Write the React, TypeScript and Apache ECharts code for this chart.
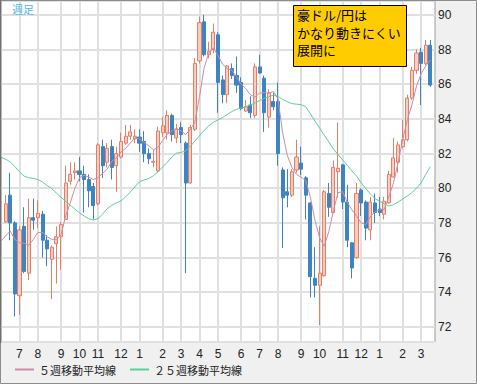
import React, { useEffect, useRef } from "react";
import * as echarts from "echarts";

// Weekly candles, AUD/JPY. Index 0 and the last index are empty pad weeks at the plot edges.
const START_WEEK_UTC = Date.UTC(2010, 5, 7);
const WEEK_MS = 7 * 24 * 3600 * 1000;
const WEEK_COUNT = 95;
const weeks: string[] = Array.from({ length: WEEK_COUNT }, (_, k) => {
  const d = new Date(START_WEEK_UTC + k * WEEK_MS);
  return `${d.getUTCFullYear()}/${d.getUTCMonth() + 1}/${d.getUTCDate()}`;
});

// [open, close, low, high]
const ohlc: number[][] = [
  [78.06, 79.1, 78.0, 79.6], [79.6, 78.0, 77.0, 80.9], [78.0, 73.9, 72.6, 78.1], [73.8, 77.6, 72.7, 77.8],
  [77.8, 75.2, 75.1, 78.9], [75.1, 78.3, 74.7, 79.4], [78.3, 78.15, 77.6, 79.4], [78.3, 78.55, 77.7, 79.3],
  [78.5, 77.0, 76.0, 78.7], [77.0, 76.5, 75.5, 77.3], [75.9, 76.6, 73.6, 76.7], [76.8, 77.2, 74.5, 77.8],
  [77.2, 77.9, 75.3, 78.05], [78.2, 80.3, 78.2, 81.3], [80.4, 80.8, 80.2, 81.5], [80.9, 81.0, 80.5, 81.5],
  [81.0, 80.8, 80.4, 81.8], [80.8, 80.5, 78.6, 81.3], [80.5, 79.85, 78.9, 80.8], [80.1, 79.0, 78.2, 80.3],
  [79.1, 82.5, 79.0, 82.6], [82.4, 81.3, 80.6, 82.8], [81.5, 82.3, 81.2, 82.6], [82.4, 81.2, 80.5, 82.8],
  [81.3, 82.0, 79.8, 82.4], [81.8, 82.7, 81.7, 83.2], [82.6, 83.0, 82.5, 83.65], [83.0, 83.25, 82.8, 83.65],
  [82.85, 83.0, 82.6, 83.4], [82.95, 82.6, 82.1, 83.4], [82.7, 82.0, 81.5, 83.3], [82.0, 81.7, 81.4, 82.3],
  [81.5, 81.55, 81.2, 82.2], [81.0, 83.3, 80.9, 83.55], [83.2, 83.6, 82.95, 84.1], [83.2, 84.2, 82.8, 84.5],
  [84.2, 83.1, 82.7, 84.3], [82.9, 83.4, 82.6, 83.7], [83.5, 83.1, 82.6, 83.8], [82.6, 80.3, 75.1, 82.7],
  [80.3, 83.5, 80.25, 83.65], [83.4, 87.2, 83.3, 87.5], [87.35, 89.55, 87.2, 89.9], [89.6, 87.7, 87.6, 90.0],
  [87.7, 87.9, 87.5, 88.45], [88.0, 89.0, 87.8, 89.5], [88.85, 86.1, 84.35, 89.0], [86.25, 85.4, 84.9, 86.5],
  [85.4, 87.05, 84.9, 87.1], [86.9, 86.5, 86.3, 87.2], [86.5, 85.95, 85.5, 87.6], [86.1, 84.6, 84.5, 86.4],
  [84.45, 84.7, 84.4, 85.1], [84.8, 84.35, 84.05, 85.3], [84.2, 87.0, 84.05, 87.2], [87.0, 86.65, 86.6, 87.7],
  [86.35, 84.35, 83.25, 86.5], [84.1, 85.5, 83.5, 85.7], [85.0, 84.7, 84.5, 85.5], [85.0, 82.0, 81.3, 86.1],
  [81.05, 79.45, 76.55, 81.2], [79.8, 79.6, 78.9, 81.1], [79.6, 80.95, 79.5, 81.1], [81.05, 81.8, 80.9, 82.8],
  [81.45, 81.1, 80.75, 82.4], [80.6, 79.6, 78.2, 80.7], [79.15, 74.9, 73.7, 79.2], [74.8, 74.4, 73.7, 76.6],
  [74.4, 75.1, 72.1, 77.8], [74.95, 79.8, 74.9, 79.9], [79.7, 78.9, 78.35, 80.3], [78.6, 81.2, 78.55, 81.6],
  [80.95, 81.15, 79.45, 83.8], [81.35, 79.2, 78.8, 81.4], [79.2, 77.0, 76.6, 80.2], [76.85, 75.4, 74.8, 76.9],
  [76.0, 79.7, 75.95, 80.3], [79.9, 79.15, 78.4, 80.0], [79.2, 77.7, 77.0, 79.3], [77.6, 79.2, 77.0, 79.5],
  [79.15, 78.6, 78.0, 79.7], [78.8, 78.6, 78.4, 79.5], [78.5, 79.25, 78.2, 79.5], [79.15, 80.8, 79.1, 81.0],
  [80.65, 81.75, 80.6, 82.9], [81.5, 82.5, 80.9, 82.7], [82.4, 82.8, 82.3, 83.95], [82.8, 85.2, 82.7, 85.4],
  [85.2, 86.8, 85.1, 87.0], [86.8, 87.8, 86.6, 88.0], [87.85, 87.2, 84.8, 88.1], [87.2, 88.25, 87.1, 88.55],
  [88.25, 85.95, 85.85, 88.55],
];

// moving averages (index 0 = left edge pad week)
const ma5: number[] = [
  76.95, 77.25, 77.53, 77.05, 76.85, 76.83, 76.7, 77.05, 77.45, 77.45,
  77.2, 77.05, 77.05, 77.3, 78.4, 79.15, 80.0, 80.6, 80.75, 80.65,
  80.5, 80.6, 80.85, 81.1, 81.55, 81.75, 82.1, 82.3, 82.6, 82.92,
  82.83, 82.65, 82.45, 82.22, 82.35, 82.75, 83.1, 83.3, 83.45, 83.3,
  83.1, 83.4, 83.8, 85.3, 86.95, 87.8, 88.1, 87.65, 87.15, 86.9,
  86.8, 86.45, 86.0, 85.75, 85.4, 85.25, 85.48, 85.52, 85.48, 85.58,
  85.15, 83.2, 81.9, 81.2, 80.8, 80.63, 80.45, 79.5, 78.15, 77.15,
  76.65, 77.5, 78.7, 79.75, 79.8, 79.2, 78.75, 78.4, 78.0, 77.9,
  78.35, 78.65, 78.75, 78.78, 79.5, 80.3, 81.45, 82.8, 83.95, 84.8,
  85.9, 86.6, 87.05, 87.4,
];
const ma25: number[] = [
  81.78, 81.68, 81.52, 81.25, 80.95, 80.7, 80.6, 80.57, 80.5, 80.36,
  80.15, 79.98, 79.72, 79.48, 79.25, 79.02, 78.8, 78.58, 78.4, 78.24,
  78.17, 78.25, 78.5, 78.82, 79.02, 79.15, 79.27, 79.5, 79.78, 80.08,
  80.37, 80.48, 80.56, 80.72, 80.95, 81.22, 81.5, 81.8, 82.02, 82.07,
  82.15, 82.42, 82.72, 83.03, 83.34, 83.6, 83.8, 83.95, 84.08, 84.25,
  84.42, 84.55, 84.62, 84.7, 84.8, 84.92, 85.05, 85.18, 85.28, 85.37,
  85.3, 85.12, 85.0, 84.88, 84.85, 84.82, 84.7, 84.3, 83.88, 83.48,
  83.07, 82.67, 82.26, 81.94, 81.63, 81.33, 81.0, 80.7, 80.32, 79.98,
  79.67, 79.4, 79.25, 79.1, 78.98, 79.05, 79.2, 79.38, 79.55, 79.75,
  80.0, 80.32, 80.8, 81.25,
];

const seriesNames = ["５週移動平均線", "２５週移動平均線"];
const noteLines = ["豪ドル/円は", "かなり動きにくい", "展開に"];
const cornerLabel = "週足";
const Y_MIN = 71.13;
const Y_MAX = 90.8;

const JP = '"Noto Sans CJK JP", sans-serif';
const NUM = '"Liberation Sans", Arial, sans-serif';

function isMonthTick(index: number): boolean {
  if (index < 1 || index > ohlc.length) return false;
  const parts = weeks[index].split("/");
  return Number(parts[2]) <= 7;
}

export default function App() {
  const ref = useRef<HTMLDivElement>(null);
  useEffect(() => {
    if (!ref.current) return;
    const chart = echarts.init(ref.current, undefined, { renderer: "svg" });
    const candleData: any[] = ["-", ...ohlc, "-"];
    const ma5Data: any[] = [...ma5, "-"];
    const ma25Data: any[] = [...ma25, "-"];
    chart.setOption({
      animation: false,
      backgroundColor: "#f0f0f0",
      grid: {
        left: 1, top: 1, right: 42, bottom: 42,
        show: true, backgroundColor: "#ffffff", borderColor: "#9c9c9c", borderWidth: 1,
      },
      legend: {
        data: seriesNames,
        left: 10, bottom: 4,
        icon: "rect", itemWidth: 19, itemHeight: 2, itemGap: 14,
        textStyle: { fontSize: 11, color: "#222", fontFamily: JP },
      },
      xAxis: {
        type: "category",
        data: weeks,
        boundaryGap: false,
        axisLine: { show: false },
        axisTick: { show: false },
        axisLabel: {
          interval: (i: number) => isMonthTick(i),
          formatter: (v: string) => v.split("/")[1],
          color: "#222", fontSize: 12, fontFamily: NUM, margin: 6,
        },
        splitLine: {
          show: true,
          interval: (i: number) => isMonthTick(i),
          lineStyle: { color: "#e0e0e0", width: 2 },
        },
      },
      yAxis: {
        type: "value",
        position: "right",
        min: Y_MIN, max: Y_MAX,
        splitNumber: 10,
        axisLine: { show: false },
        axisTick: { show: false },
        axisLabel: {
          showMinLabel: false, showMaxLabel: false,
          color: "#222", fontSize: 12, fontFamily: NUM, margin: 3,
        },
        splitLine: { show: true, lineStyle: { color: "#e0e0e0", width: 2 } },
      },
      series: [
        {
          type: "candlestick",
          data: candleData,
          barWidth: 3.6,
          itemStyle: {
            color: "#f6cdc2", color0: "#3d84c3",
            borderColor: "#e47f66", borderColor0: "#3d84c3", borderWidth: 1,
          },
          z: 2,
        },
        {
          name: seriesNames[0], type: "line", data: ma5Data, symbol: "none",
          lineStyle: { color: "#cf8aa8", width: 1 }, itemStyle: { color: "#cf8aa8" }, z: 3,
        },
        {
          name: seriesNames[1], type: "line", data: ma25Data, symbol: "none",
          lineStyle: { color: "#5ccf9c", width: 1 }, itemStyle: { color: "#5ccf9c" }, z: 3,
        },
      ],
      graphic: [
        { type: "rect", shape: { x: 0.5, y: 0.5, width: 476, height: 383 }, style: { fill: "none", stroke: "#8c8c8c", lineWidth: 1 }, z: 100 },
        { type: "line", shape: { x1: 0.5, y1: 0, x2: 0.5, y2: 343 }, style: { stroke: "#707070", lineWidth: 1.5 }, z: 100 },
        { type: "text", x: 12, y: 3, style: { text: cornerLabel, fill: "#4cb8e6", font: `11px ${JP}` }, z: 100 },
        { type: "rect", shape: { x: 293.5, y: 5.5, width: 113, height: 61 }, style: { fill: "#ffcc00", stroke: "#000", lineWidth: 1 }, z: 100 },
        ...noteLines.map((t, i) => ({
          type: "text", x: 297, y: 14.5 + i * 17.5,
          style: { text: t, fill: "#000", font: `13px ${JP}`, textVerticalAlign: "middle", verticalAlign: "middle" },
          z: 101,
        })),
      ],
    });
    return () => chart.dispose();
  }, []);
  return (
    <div
      ref={ref}
      style={{ position: "absolute", left: 0, top: 0, width: 477, height: 384 }}
    />
  );
}
